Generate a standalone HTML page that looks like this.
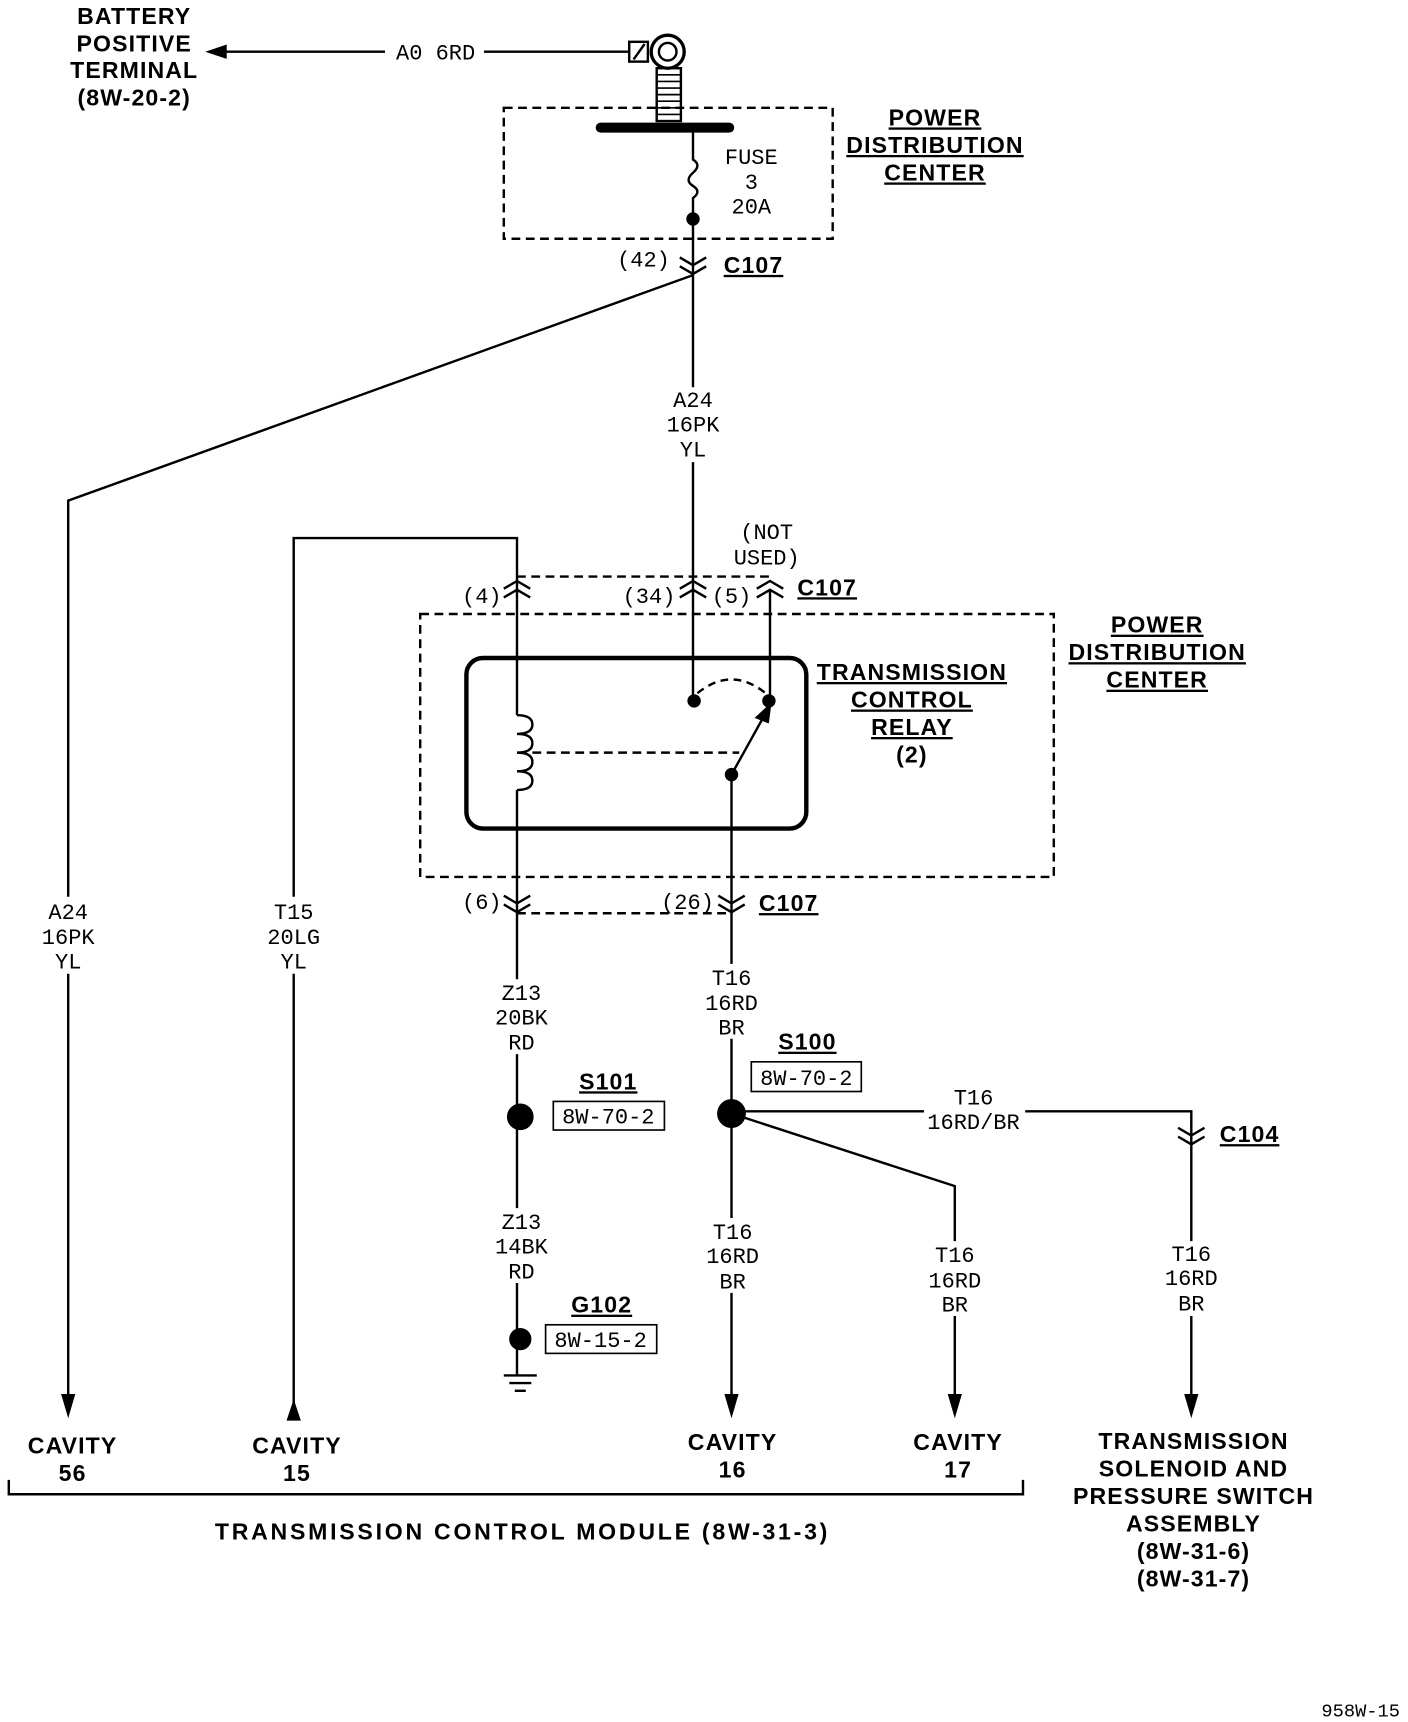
<!DOCTYPE html>
<html><head><meta charset="utf-8"><style>
html,body{margin:0;padding:0;background:#fff}
svg{display:block}
.t{font-family:"Liberation Mono",monospace;font-size:20px;fill:#000;text-anchor:middle}
.b{font-family:"Liberation Sans",sans-serif;font-weight:bold;font-size:21px;fill:#000;text-anchor:middle;letter-spacing:1px}
.u{text-decoration:underline}
</style></head><body>
<svg width="1408" height="1722" viewBox="0 0 1280 1565" preserveAspectRatio="none" xmlns="http://www.w3.org/2000/svg">
<g stroke="#000" stroke-width="2.2" fill="none">
<line x1="195" y1="47" x2="350" y2="47"/><line x1="440" y1="47" x2="572" y2="47"/>
<polygon points="190,47 205,42 205,52" fill="#000"/>
<rect x="572" y="38" width="17" height="18"/><line x1="576" y1="54" x2="586" y2="40"/>
<circle cx="607" cy="47" r="15" stroke-width="3"/><circle cx="607" cy="47" r="8"/>
<rect x="597" y="62" width="22" height="48"/>
<g stroke-width="1.5"><line x1="597" y1="68" x2="619" y2="68"/><line x1="597" y1="74" x2="619" y2="74"/><line x1="597" y1="80" x2="619" y2="80"/><line x1="597" y1="86" x2="619" y2="86"/><line x1="597" y1="92" x2="619" y2="92"/><line x1="597" y1="98" x2="619" y2="98"/><line x1="597" y1="104" x2="619" y2="104"/></g>
<line x1="546" y1="116" x2="663" y2="116" stroke-width="9" stroke-linecap="round"/>
<rect x="458" y="98" width="299" height="119" stroke-dasharray="8,5"/>
<path d="M630 116 V145 q8 5 0 12 q-8 7 0 12 q8 5 0 11 V250"/>
<circle cx="630" cy="199" r="5" fill="#000"/>
<path d="M618 234 L630 241 L642 234 M618 242 L630 249 L642 242"/>
<path d="M630 250 L62 455 V815"/><line x1="62" y1="885" x2="62" y2="1275"/>
<polygon points="62,1285 57,1268 67,1268" fill="#000"/>
<line x1="630" y1="250" x2="630" y2="352"/><line x1="630" y1="420" x2="630" y2="637"/>
<path d="M470 545 V489 H267 V815"/><line x1="267" y1="885" x2="267" y2="1278"/>
<polygon points="267,1275 262,1290 272,1290" fill="#000"/>
<line x1="470" y1="524" x2="700" y2="524" stroke-dasharray="8,5"/>
<path d="M458 535 L470 528 L482 535 M458 543 L470 536 L482 543"/>
<path d="M618 535 L630 528 L642 535 M618 543 L630 536 L642 543"/>
<path d="M688 535 L700 528 L712 535 M688 543 L700 536 L712 543"/>
<line x1="700" y1="537" x2="700" y2="637"/>
<rect x="382" y="558" width="576" height="239" stroke-dasharray="8,5"/>
<rect x="424" y="598" width="309" height="155" rx="15" stroke-width="4"/>
<line x1="470" y1="545" x2="470" y2="650"/><line x1="470" y1="718" x2="470" y2="830"/>
<path d="M470 650 q14 0 14 8.5 q0 8.5 -14 8.5 q14 0 14 8.5 q0 8.5 -14 8.5 q14 0 14 8.5 q0 8.5 -14 8.5 q14 0 14 8.5 q0 8.5 -14 8.5"/>
<line x1="484" y1="684" x2="672" y2="684" stroke-dasharray="8,5"/>
<circle cx="631" cy="637" r="5" fill="#000"/><circle cx="699" cy="637" r="5" fill="#000"/>
<path d="M634 630 Q665 605 696 630" stroke-dasharray="7,5"/>
<line x1="665" y1="704" x2="695" y2="650"/>
<polygon points="700,641 688,652 698,656" fill="#000"/>
<circle cx="665" cy="704" r="5" fill="#000"/>
<line x1="470" y1="830" x2="665" y2="830" stroke-dasharray="8,5"/>
<path d="M458 814 L470 821 L482 814 M458 822 L470 829 L482 822"/>
<path d="M653 814 L665 821 L677 814 M653 822 L665 829 L677 822"/>
<line x1="665" y1="704" x2="665" y2="876"/>
<line x1="470" y1="830" x2="470" y2="890"/><line x1="470" y1="958" x2="470" y2="1098"/><line x1="470" y1="1166" x2="470" y2="1250"/>
<line x1="665" y1="944" x2="665" y2="1107"/><line x1="665" y1="1175" x2="665" y2="1275"/>
<polygon points="665,1285 660,1268 670,1268" fill="#000"/>
<path d="M665 1012 L868 1078 V1128"/><line x1="868" y1="1196" x2="868" y2="1275"/>
<polygon points="868,1285 863,1268 873,1268" fill="#000"/>
<path d="M665 1010 H840 M932 1010 H1083 V1040"/>
<path d="M1071 1025 L1083 1032 L1095 1025 M1071 1033 L1083 1040 L1095 1033"/>
<line x1="1083" y1="1040" x2="1083" y2="1128"/><line x1="1083" y1="1196" x2="1083" y2="1275"/>
<polygon points="1083,1285 1078,1268 1088,1268" fill="#000"/>
<circle cx="473" cy="1015" r="11" fill="#000"/>
<circle cx="665" cy="1012" r="12" fill="#000"/>
<circle cx="473" cy="1217" r="9" fill="#000"/>
<line x1="458" y1="1250" x2="488" y2="1250"/><line x1="463" y1="1257" x2="483" y2="1257"/><line x1="468" y1="1264" x2="478" y2="1264"/>
<rect x="503" y="1001" width="101" height="26" stroke-width="1.5"/>
<rect x="683" y="965" width="100" height="27" stroke-width="1.5"/>
<rect x="496" y="1204" width="101" height="26" stroke-width="1.5"/>
<path d="M8 1345 V1358 H930 V1345"/>
</g>
<text class="b" x="122" y="22">BATTERY</text><text class="b" x="122" y="47">POSITIVE</text><text class="b" x="122" y="71">TERMINAL</text><text class="b" x="122" y="96">(8W-20-2)</text>
<text class="t" x="396" y="54">A0 6RD</text>
<text class="t" x="683" y="149">FUSE</text><text class="t" x="683" y="172">3</text><text class="t" x="683" y="194">20A</text>
<text class="b u" x="850" y="114">POWER</text><text class="b u" x="850" y="139">DISTRIBUTION</text><text class="b u" x="850" y="164">CENTER</text>
<text class="t" x="585" y="242">(42)</text><text class="b u" x="685" y="248">C107</text>
<text class="t" x="630" y="370">A24</text><text class="t" x="630" y="392">16PK</text><text class="t" x="630" y="415">YL</text>
<text class="t" x="697" y="490">(NOT</text><text class="t" x="697" y="513">USED)</text>
<text class="t" x="438" y="548">(4)</text><text class="t" x="590" y="548">(34)</text><text class="t" x="665" y="548">(5)</text><text class="b u" x="752" y="541">C107</text>
<text class="b u" x="1052" y="575">POWER</text><text class="b u" x="1052" y="600">DISTRIBUTION</text><text class="b u" x="1052" y="625">CENTER</text>
<text class="b u" x="829" y="618">TRANSMISSION</text><text class="b u" x="829" y="643">CONTROL</text><text class="b u" x="829" y="668">RELAY</text><text class="b" x="829" y="693">(2)</text>
<text class="t" x="438" y="826">(6)</text><text class="t" x="625" y="826">(26)</text><text class="b u" x="717" y="828">C107</text>
<text class="t" x="62" y="835">A24</text><text class="t" x="62" y="858">16PK</text><text class="t" x="62" y="880">YL</text>
<text class="t" x="267" y="835">T15</text><text class="t" x="267" y="858">20LG</text><text class="t" x="267" y="880">YL</text>
<text class="t" x="474" y="909">Z13</text><text class="t" x="474" y="931">20BK</text><text class="t" x="474" y="954">RD</text>
<text class="t" x="665" y="895">T16</text><text class="t" x="665" y="918">16RD</text><text class="t" x="665" y="940">BR</text>
<text class="b u" x="734" y="954">S100</text><text class="t" x="733" y="986">8W-70-2</text>
<text class="b u" x="553" y="990">S101</text><text class="t" x="553" y="1021">8W-70-2</text>
<text class="t" x="885" y="1004">T16</text><text class="t" x="885" y="1026">16RD/BR</text>
<text class="b u" x="1136" y="1038">C104</text>
<text class="t" x="474" y="1117">Z13</text><text class="t" x="474" y="1139">14BK</text><text class="t" x="474" y="1162">RD</text>
<text class="b u" x="547" y="1193">G102</text><text class="t" x="546" y="1224">8W-15-2</text>
<text class="t" x="666" y="1126">T16</text><text class="t" x="666" y="1148">16RD</text><text class="t" x="666" y="1171">BR</text>
<text class="t" x="868" y="1147">T16</text><text class="t" x="868" y="1170">16RD</text><text class="t" x="868" y="1192">BR</text>
<text class="t" x="1083" y="1146">T16</text><text class="t" x="1083" y="1168">16RD</text><text class="t" x="1083" y="1191">BR</text>
<text class="b" x="66" y="1321">CAVITY</text><text class="b" x="66" y="1346">56</text>
<text class="b" x="270" y="1321">CAVITY</text><text class="b" x="270" y="1346">15</text>
<text class="b" x="666" y="1318">CAVITY</text><text class="b" x="666" y="1343">16</text>
<text class="b" x="871" y="1318">CAVITY</text><text class="b" x="871" y="1343">17</text>
<text class="b" x="475" y="1399" style="letter-spacing:2.5px">TRANSMISSION CONTROL MODULE (8W-31-3)</text>
<text class="b" x="1085" y="1317">TRANSMISSION</text><text class="b" x="1085" y="1342">SOLENOID AND</text><text class="b" x="1085" y="1367">PRESSURE SWITCH</text><text class="b" x="1085" y="1392">ASSEMBLY</text><text class="b" x="1085" y="1417">(8W-31-6)</text><text class="b" x="1085" y="1442">(8W-31-7)</text>
<text class="t" x="1237" y="1560" style="font-size:17px">958W-15</text>
</svg>
</body></html>
